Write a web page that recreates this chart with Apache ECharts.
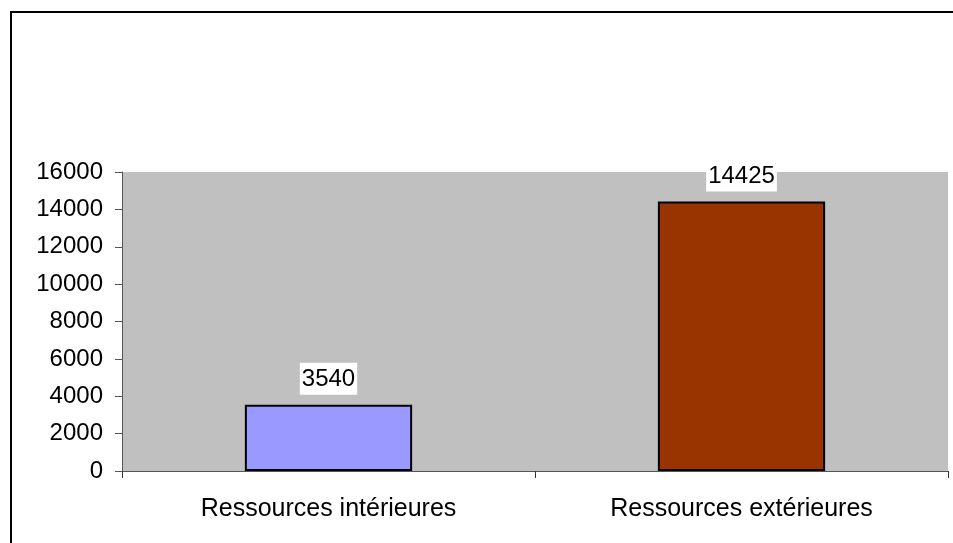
<!DOCTYPE html>
<html><head><meta charset="utf-8">
<script src="https://cdn.jsdelivr.net/npm/echarts@6/dist/echarts.min.js"></script>
<style>html,body{margin:0;padding:0;background:#fff}#c{width:953px;height:543px}</style>
</head><body><div id="c"></div>
<script>
const categories = ['Ressources intérieures', 'Ressources extérieures'];
const values = [3540, 14425];
const barColors = ['#9999ff', '#993300'];
const yTicks = [0, 2000, 4000, 6000, 8000, 10000, 12000, 14000, 16000];

const chart = echarts.init(document.getElementById('c'));
const font = 'Liberation Sans, Arial, sans-serif';
chart.setOption({
  animation: false,
  backgroundColor: '#fff',
  graphic: [{
    type: 'rect', shape: {x: 11, y: 12, width: 960, height: 560},
    style: {fill: 'none', stroke: '#000', lineWidth: 2}, z: 100
  }],
  grid: {left: 122, top: 172, right: 5, bottom: 72, show: true, backgroundColor: '#c0c0c0', borderWidth: 0},
  xAxis: {
    type: 'category', data: categories,
    axisLine: {lineStyle: {color: '#555', width: 1}},
    axisTick: {show: true, length: 7, lineStyle: {color: '#333'}},
    axisLabel: {color: '#000', fontSize: 25, fontFamily: font, margin: 26}
  },
  yAxis: {
    type: 'value', min: yTicks[0], max: yTicks[yTicks.length - 1], interval: 2000,
    axisLine: {show: true, lineStyle: {color: '#555', width: 1}},
    axisTick: {show: true, length: 7, lineStyle: {color: '#555'}},
    splitLine: {show: false},
    axisLabel: {color: '#000', fontSize: 24, fontFamily: font, margin: 19, formatter: v => String(v)}
  },
  series: [{
    type: 'bar', barWidth: '40.5%',
    data: values.map((v, i) => ({value: v, itemStyle: {color: barColors[i]}})),
    itemStyle: {borderColor: '#000', borderWidth: 2},
    label: {show: true, position: 'top', distance: 10, color: '#000', fontSize: 24, fontFamily: font,
      backgroundColor: '#fff', padding: [5, 2, 3, 2]}
  }]
});
</script></body></html>
